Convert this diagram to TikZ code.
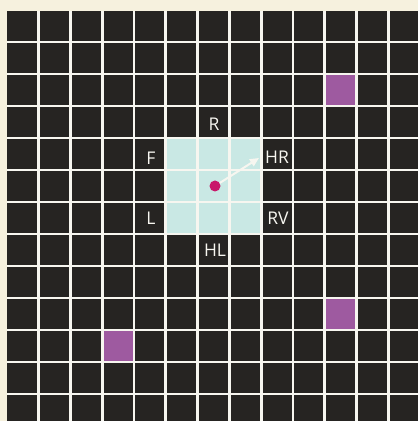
\documentclass[tikz,border=0pt]{standalone}
\usepackage{fontspec}
\setmainfont{Open Sans}
\usetikzlibrary{arrows.meta}
\definecolor{paper}{HTML}{F6F1DE}
\definecolor{cellblack}{HTML}{262422}
\definecolor{gridwhite}{HTML}{F7F6F0}
\definecolor{zone}{HTML}{C9E8E4}
\definecolor{mauve}{HTML}{9E5AA0}
\definecolor{dotred}{HTML}{C8186A}
\tikzset{
  gridline/.style={draw=gridwhite, line width=2.8pt},
  lbl/.style={text=gridwhite, font=\fontsize{17.5}{20}\selectfont, inner sep=0pt},
  target/.style={fill=mauve, draw=none},
  move/.style={draw=gridwhite, line width=2pt, -{Triangle[length=9pt,width=8pt]}},
}
\begin{document}
\begin{tikzpicture}[x=1pt,y=1pt]
  % canvas (image coords: y measured downwards, flipped to 421-y)
  \fill[paper] (0,0) rectangle (418,421);
  \useasboundingbox (0,0) rectangle (418,421);
  \begin{scope}
    \clip (0,0) rectangle (418,421);
    \fill[cellblack] (7,-5) rectangle (425,410);
    % highlighted 3x3 zone
    \fill[zone] (165.7,283) rectangle (261.1,187);
    % mauve cells
    \fill[target] (324.7,348) rectangle (356.5,315);   % row 2, col 10
    \fill[target] (324.7,124) rectangle (356.5,92);    % row 9, col 10
    \fill[target] (102.1,92) rectangle (133.9,60);     % row 10, col 3
    % white grid lines
    \foreach \i in {0,...,11} {
      \draw[gridline] ({38.5+31.8*\i},-5) -- ({38.5+31.8*\i},410);
      \draw[gridline] (7,{421-42-32*\i}) -- (425,{421-42-32*\i});
    }
  \end{scope}
  % labels
  \node[lbl] (R)  at (214,297) {R};
  \node[lbl] (F)  at (151,263) {F};
  \node[lbl] (HR) at (277,264) {HR};
  \node[lbl] (L)  at (151,203) {L};
  \node[lbl] (RV) at (278,203) {RV};
  \node[lbl] (HL) at (215,171) {HL};
  % dot and arrow
  \node[circle, fill=dotred, inner sep=0pt, minimum size=11pt] (dot) at (215,235) {};
  \coordinate (tip) at (259,263);
  \draw[move] (dot) -- (tip);
\end{tikzpicture}
\end{document}
